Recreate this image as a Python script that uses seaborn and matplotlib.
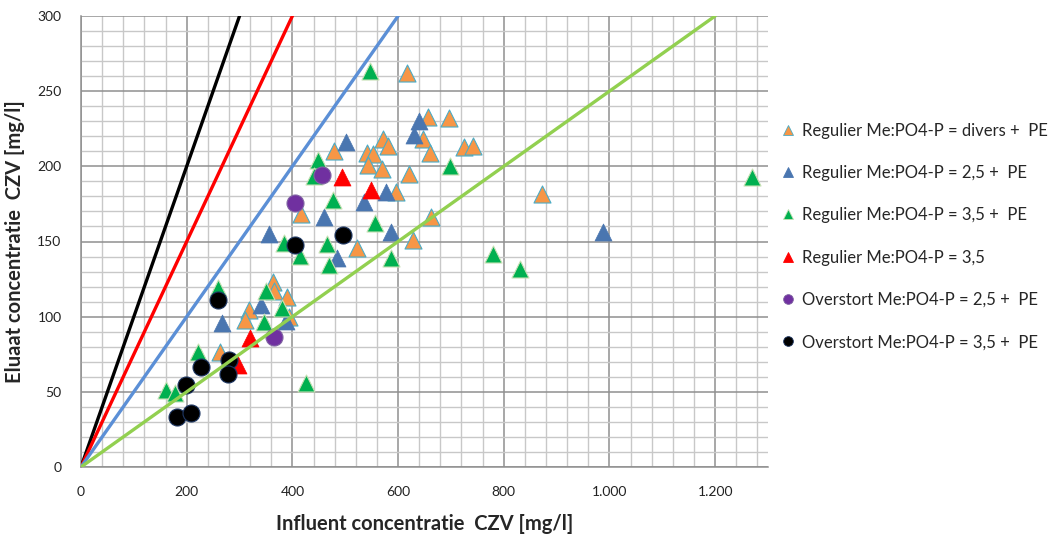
import matplotlib
matplotlib.use("Agg")
import matplotlib.pyplot as plt
from matplotlib.lines import Line2D
import numpy as np
import pandas as pd
import seaborn as sns

# Regulier Me:PO4-P = divers + PE
div_x = [616, 657, 696, 648, 660, 724, 741, 478, 571, 580, 541, 553, 543, 570,
         620, 417, 597, 662, 522, 628, 873, 363, 366, 390, 318, 310, 394, 263]
div_y = [262, 232.5, 232, 218, 209, 213, 213.6, 210, 218, 213.6, 209, 208, 201, 198,
         195, 168, 183, 166, 146, 151, 181.6, 123, 117, 113, 104.4, 97.8, 100, 76.7]

# Regulier Me:PO4-P = 2,5 + PE
b25_x = [640, 631, 502, 578, 535, 459, 587, 356, 484, 987, 266, 341, 387]
b25_y = [230, 221, 216, 182.8, 176.5, 166.3, 156.6, 155, 139, 156.6, 96, 107.8, 97.3]

# Regulier Me:PO4-P = 3,5 + PE
g35_x = [546, 448, 440, 477, 557, 698, 385, 415, 466, 470, 586, 779, 830, 1269,
         259, 350, 380, 347, 222, 160, 178, 426]
g35_y = [263.5, 204.5, 193.5, 177.5, 162.3, 200, 149, 140.5, 148.6, 134.5, 139, 142, 132, 193,
         119, 117, 105.5, 96.7, 76.7, 51.2, 49, 55.7]

# Regulier Me:PO4-P = 3,5 (zonder PE)
r35_x = [494, 549, 320, 298]
r35_y = [193, 184, 86, 68]

# Overstort Me:PO4-P = 2,5 + PE
o25_x = [456, 405, 366]
o25_y = [194.3, 175.4, 86.3]

# Overstort Me:PO4-P = 3,5 + PE
o35_x = [496, 405, 259, 280, 227, 279, 198, 182, 208]
o35_y = [154.4, 147.7, 111, 71.2, 66.2, 62, 54.6, 33.3, 35.7]

series_labels = [
    "Regulier Me:PO4-P = divers +  PE",
    "Regulier Me:PO4-P = 2,5 +  PE",
    "Regulier Me:PO4-P = 3,5 +  PE",
    "Regulier Me:PO4-P = 3,5",
    "Overstort Me:PO4-P = 2,5 +  PE",
    "Overstort Me:PO4-P = 3,5 +  PE",
]

# Ratio lines eluaat = ratio * influent
ratios = [1.0, 0.75, 0.5, 0.25]
ratio_colors = ["#000000", "#FF0000", "#5B8FD6", "#92D050"]

x_ticks = [0, 200, 400, 600, 800, 1000, 1200]
x_tick_labels = ["0", "200", "400", "600", "800", "1.000", "1.200"]
y_ticks = [0, 50, 100, 150, 200, 250, 300]
y_tick_labels = ["0", "50", "100", "150", "200", "250", "300"]

sns.set_theme(style="white")
plt.rcParams["font.family"] = ["Lato", "DejaVu Sans"]

fig = plt.figure(figsize=(10.57, 5.39), dpi=100)
ax = fig.add_axes([81 / 1057, 72 / 539, 687 / 1057, 451 / 539])

styles = [
    dict(marker="^", fc="#F79646", ec="#4BACC6", s=150, lw=0.8),
    dict(marker="^", fc="#4A76B0", ec="#4A76B0", s=150, lw=0.5),
    dict(marker="^", fc="#00B050", ec="#C6E0B4", s=150, lw=0.8),
    dict(marker="^", fc="#FF0000", ec="#FF0000", s=150, lw=0.5),
    dict(marker="o", fc="#7030A0", ec="#8064A2", s=150, lw=0.8),
    dict(marker="o", fc="#000000", ec="#1F3864", s=150, lw=0.8),
]
xs = [div_x, b25_x, g35_x, r35_x, o25_x, o35_x]
ys = [div_y, b25_y, g35_y, r35_y, o25_y, o35_y]

for i, (sx, sy, st) in enumerate(zip(xs, ys, styles)):
    df = pd.DataFrame({"influent": sx, "eluaat": sy})
    sns.scatterplot(data=df, x="influent", y="eluaat", ax=ax, marker=st["marker"],
                    color=st["fc"], edgecolor=st["ec"], s=st["s"], linewidth=st["lw"],
                    zorder=3 + i, legend=False)

for r, c in zip(ratios, ratio_colors):
    line = pd.DataFrame({"influent": [0, 300 / r], "eluaat": [0, 300]})
    sns.lineplot(data=line, x="influent", y="eluaat", ax=ax, color=c, lw=2.4,
                 zorder=10, legend=False)

ax.set_xlim(0, 1300)
ax.set_ylim(0, 300)
ax.set_xticks(x_ticks)
ax.set_xticklabels(x_tick_labels)
ax.set_yticks(y_ticks)
ax.set_yticklabels(y_tick_labels)
ax.set_xticks(np.arange(40, 1300, 40), minor=True)
ax.set_yticks(np.arange(10, 300, 10), minor=True)
ax.grid(which="minor", color="#C8C8C8", lw=1.0)
ax.grid(which="major", color="#8F8F8F", lw=1.1)
ax.set_axisbelow(True)

for side in ["top", "right"]:
    ax.spines[side].set_visible(False)
for side in ["left", "bottom"]:
    ax.spines[side].set_color("#8F8F8F")
    ax.spines[side].set_linewidth(1.1)

ax.tick_params(which="major", direction="out", length=5, width=1.1, color="#8F8F8F",
               labelsize=10, labelcolor="#222222", pad=9)
ax.tick_params(which="minor", length=0)

ax.set_xlabel("Influent concentratie  CZV [mg/l]", fontsize=14.5, fontweight="bold",
              labelpad=11)
ax.set_ylabel("Eluaat concentratie  CZV [mg/l]", fontsize=14.5, fontweight="bold",
              labelpad=9)

handles = []
for st, lab in zip(styles, series_labels):
    handles.append(Line2D([], [], ls="none", marker=st["marker"], markersize=7,
                          markerfacecolor=st["fc"], markeredgecolor=st["ec"],
                          markeredgewidth=0.6, label=lab))
fig.legend(handles=handles, loc="upper left", bbox_to_anchor=(775 / 1057, 1 - 116 / 539),
           frameon=False, fontsize=12, labelspacing=1.58, handlelength=0.8,
           handletextpad=0.4, borderaxespad=0)

fig.savefig("out.png", dpi=100)
